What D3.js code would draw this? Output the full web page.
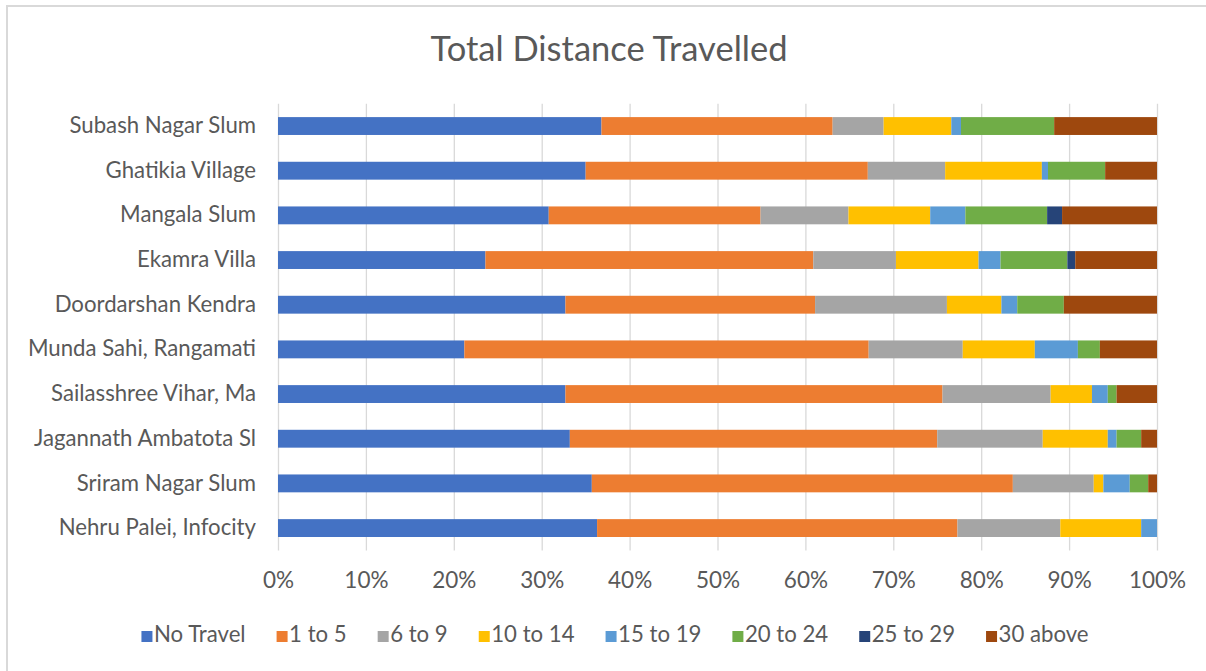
<!DOCTYPE html>
<html>
<head>
<meta charset="utf-8">
<script src="https://cdn.jsdelivr.net/npm/d3@7"></script>
<style>
html,body{margin:0;padding:0;background:#fff;}
svg{display:block;}
text{font-family:Lato,"Open Sans",sans-serif;fill:#595959;}
</style>
</head>
<body>
<svg id="chart" width="1206" height="671"></svg>
<script>
const title = "Total Distance Travelled";
const categories = ["Subash Nagar Slum","Ghatikia Village","Mangala Slum","Ekamra Villa","Doordarshan Kendra","Munda Sahi, Rangamati","Sailasshree Vihar, Ma","Jagannath Ambatota Sl","Sriram Nagar Slum","Nehru Palei, Infocity"];
const seriesNames = ["No Travel","1 to 5","6 to 9","10 to 14","15 to 19","20 to 24","25 to 29","30 above"];
const seriesColors = ["#4472C4","#ED7D31","#A5A5A5","#FFC000","#5B9BD5","#70AD47","#264478","#9E480E"];
const noTravel   = [36.8, 35.0, 30.8, 23.6, 32.7, 21.2, 32.7, 33.2, 35.7, 36.3];
const oneTo5     = [26.3, 32.1, 24.1, 37.3, 28.4, 46.0, 42.9, 41.8, 47.9, 41.0];
const sixTo9     = [5.8, 8.8, 10.0, 9.4, 15.0, 10.7, 12.3, 12.0, 9.2, 11.7];
const tenTo14    = [7.7, 11.0, 9.3, 9.4, 6.2, 8.2, 4.7, 7.4, 1.1, 9.2];
const fifteenTo19= [1.1, 0.7, 4.0, 2.5, 1.8, 4.9, 1.8, 1.0, 3.0, 1.8];
const twentyTo24 = [10.6, 6.5, 9.3, 7.6, 5.3, 2.5, 1.0, 2.8, 2.1, 0];
const twenty5To29= [0, 0, 1.7, 0.9, 0, 0, 0, 0, 0, 0];
const thirtyAbove= [11.7, 5.9, 10.8, 9.3, 10.6, 6.5, 4.6, 1.8, 1.0, 0];
const xTicks = [0,10,20,30,40,50,60,70,80,90,100];

const seriesValues = [noTravel, oneTo5, sixTo9, tenTo14, fifteenTo19, twentyTo24, twenty5To29, thirtyAbove];
const table = categories.map((c,i)=>{
  const row = {category:c};
  seriesNames.forEach((s,j)=>{ row[s] = seriesValues[j][i]; });
  return row;
});

const svg = d3.select("#chart");

// chart border (top + left visible)
svg.append("rect").attr("x",7).attr("y",6).attr("width",1220).attr("height",700)
  .attr("fill","none").attr("stroke","#D9D9D9").attr("stroke-width",2);

svg.append("text").attr("x",609).attr("y",61).attr("text-anchor","middle")
  .style("font-size","34.5px").text(title);

const x = d3.scaleLinear().domain([0,100]).range([278,1157]);
const y = d3.scaleBand().domain(categories).range([103.7,550.4]).paddingInner(0.6).paddingOuter(0.3);

// gridlines
svg.append("g").selectAll("line").data(xTicks).join("line")
  .attr("x1",d=>x(d)+0.5).attr("x2",d=>x(d)+0.5)
  .attr("y1",103.7).attr("y2",550.4)
  .attr("stroke","#D9D9D9").attr("stroke-width",1.3);

const stack = d3.stack().keys(seriesNames);
const stacked = stack(table);

svg.append("g").selectAll("g").data(stacked).join("g")
  .attr("fill",(d,i)=>seriesColors[i])
  .selectAll("rect").data(d=>d).join("rect")
  .attr("x",d=>x(d[0]))
  .attr("width",d=>Math.max(0,x(d[1])-x(d[0])))
  .attr("y",d=>y(d.data.category))
  .attr("height",y.bandwidth());

// y axis labels
const yAxis = d3.axisLeft(y).tickSize(0).tickPadding(22);
const gy = svg.append("g").attr("transform","translate(278,0)").call(yAxis);
gy.select(".domain").remove();
gy.selectAll("text").style("font-size","22.2px").style("font-family","Lato").attr("fill","#595959");

// x axis labels
const xAxis = d3.axisBottom(x).tickValues(xTicks).tickFormat(d=>d+"%").tickSize(0).tickPadding(20);
const gx = svg.append("g").attr("transform","translate(0,552)").call(xAxis);
gx.select(".domain").remove();
gx.selectAll("text").style("font-size","22.5px").style("font-family","Lato").attr("fill","#595959");

// legend
const legend = svg.append("g");
const items = legend.selectAll("g").data(seriesNames).join("g");
items.append("rect").attr("width",11).attr("height",11).attr("y",-11)
  .attr("fill",(d,i)=>seriesColors[i]);
items.append("text").attr("x",12.5).attr("y",0).style("font-size","22.2px").text(d=>d);
let cx = 0; const gap = 31; const pos = [];
items.each(function(){
  const w = 12.5 + d3.select(this).select("text").node().getComputedTextLength();
  pos.push(cx); cx += w + gap;
});
const total = cx - gap;
const startX = 615 - total/2;
items.attr("transform",(d,i)=>`translate(${startX+pos[i]},642)`);
</script>
</body>
</html>
